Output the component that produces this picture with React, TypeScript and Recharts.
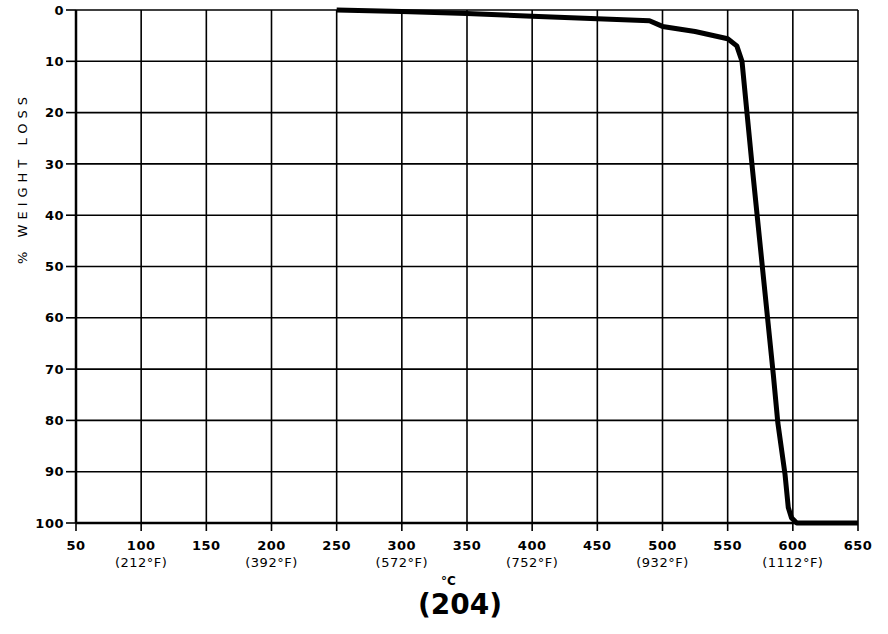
import { LineChart, Line, XAxis, YAxis, CartesianGrid } from 'recharts'

// TGA trace, temperature in °C vs % weight loss
const tempC = [250, 300, 350, 400, 450, 490, 500, 525, 550, 557, 561, 565, 569, 573, 577, 581, 585, 588.5, 594, 596.5, 599, 603, 650]
const weightLoss = [0, 0.3, 0.7, 1.2, 1.7, 2.1, 3.2, 4.2, 5.6, 7, 10, 20.5, 31, 41, 51, 61, 71, 80.5, 90.5, 97, 99, 100, 100]

const xTicks = [50, 100, 150, 200, 250, 300, 350, 400, 450, 500, 550, 600, 650]
const yTicks = [0, 10, 20, 30, 40, 50, 60, 70, 80, 90, 100]
const fahrenheit: Record<number, string> = {
  100: '212', 200: '392', 300: '572', 400: '752', 500: '932', 600: '1112',
}

const data = tempC.map((t, i) => ({ t, loss: weightLoss[i] }))

const FONT = '"DejaVu Sans", Verdana, sans-serif'
const tickText = { fontFamily: FONT, fontSize: 13, fontWeight: 'bold' as const, fill: '#000', letterSpacing: 0.5 }

function XTick({ x, y, payload }: any) {
  const f = fahrenheit[payload.value]
  return (
    <g transform={`translate(${x},${y})`}>
      <text x={0} y={8} dy="0.71em" textAnchor="middle" {...tickText}>
        {payload.value}
      </text>
      {f && (
        <text x={0} y={25} dy="0.71em" textAnchor="middle" {...tickText} fontWeight="normal">
          ({f}°F)
        </text>
      )}
    </g>
  )
}

function YLabel() {
  return (
    <text
      x={22}
      y={178}
      transform="rotate(-90, 22, 178)"
      textAnchor="middle"
      dominantBaseline="central"
      fontFamily={FONT}
      fontSize={13}
      fill="#000"
      letterSpacing={5}
    >
      % WEIGHT LOSS
    </text>
  )
}

export default function App() {
  return (
    <div style={{ position: 'absolute', left: 0, top: 0, width: 888, height: 634, background: '#fff' }}>
      <LineChart width={888} height={634} data={data} margin={{ top: 10, right: 30, bottom: 51, left: 16 }}>
        <CartesianGrid stroke="#000" strokeWidth={1.6} horizontalValues={yTicks} verticalValues={xTicks} />
        <XAxis
          dataKey="t"
          type="number"
          domain={[50, 650]}
          ticks={xTicks}
          height={60}
          tickSize={8}
          axisLine={{ stroke: '#000', strokeWidth: 2.5 }}
          tickLine={{ stroke: '#000', strokeWidth: 1.6 }}
          tick={<XTick />}
          interval={0}
        />
        <YAxis
          type="number"
          reversed
          domain={[0, 100]}
          ticks={yTicks}
          width={60}
          tickSize={10}
          axisLine={{ stroke: '#000', strokeWidth: 2.5 }}
          tickLine={{ stroke: '#000', strokeWidth: 1.6 }}
          tick={tickText}
          interval={0}
          label={{ content: () => <YLabel /> }}
        />
        <Line
          type="linear"
          dataKey="loss"
          stroke="#000"
          strokeWidth={5}
          dot={false}
          activeDot={false}
          isAnimationActive={false}
          strokeLinejoin="round"
        />
      </LineChart>
      <div style={{ position: 'absolute', left: 441, top: 574, fontFamily: FONT, fontSize: 12, fontWeight: 'bold' }}>°C</div>
      <div style={{ position: 'absolute', left: 380, top: 588, width: 160, textAlign: 'center', fontFamily: FONT, fontSize: 28, fontWeight: 'bold' }}>
        (204)
      </div>
    </div>
  )
}
